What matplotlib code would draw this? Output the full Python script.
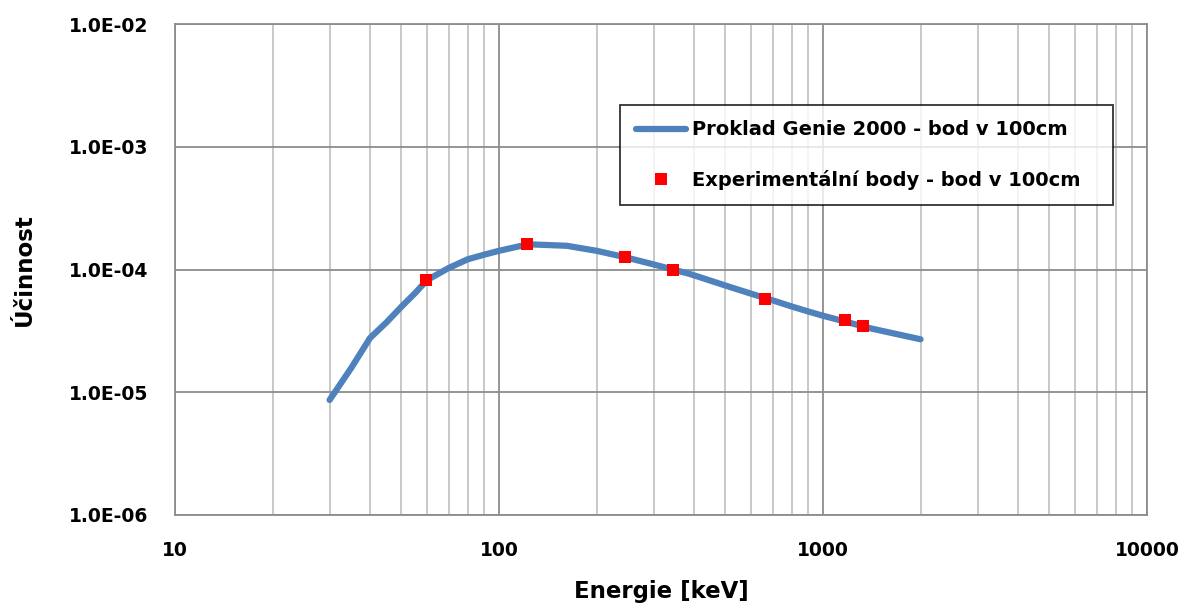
import numpy as np
import matplotlib.pyplot as plt
from matplotlib.ticker import FixedLocator, NullFormatter, LogLocator

plt.rcParams['font.family'] = ['DejaVu Sans']

# fitted curve (Genie 2000)
fit_energy = [30, 35, 40, 45, 50, 55, 60, 70, 80, 90, 100, 116, 127, 162, 200, 245, 300, 344,
              388, 500, 600, 700, 800, 900, 1000, 1413, 2000]
fit_eff = [8.65e-6, 1.58e-5, 2.77e-5, 3.72e-5, 4.98e-5, 6.4e-5, 8.2e-5, 1.03e-4, 1.21e-4, 1.32e-4,
           1.42e-4, 1.55e-4, 1.60e-4, 1.56e-4, 1.42e-4, 1.26e-4, 1.10e-4, 1.0e-4,
           9.2e-5, 7.4e-5, 6.35e-5, 5.6e-5, 5.0e-5, 4.55e-5, 4.2e-5, 3.3e-5, 2.7e-5]

# experimental points
exp_energy = [59.5, 122.1, 244.7, 344.3, 661.7, 1173.2, 1332.5]
exp_eff = [8.25e-5, 1.61e-4, 1.27e-4, 1.0e-4, 5.75e-5, 3.88e-5, 3.47e-5]

fig = plt.figure(figsize=(11.85, 6.07), dpi=100)
ax = fig.add_axes([175 / 1185, 1 - 515 / 607, 972 / 1185, 491 / 607])

ax.plot(fit_energy, fit_eff, color='#4f81bd', lw=4.5, solid_capstyle='round',
        solid_joinstyle='round', label='Proklad Genie 2000 - bod v 100cm', zorder=3)
ax.plot(exp_energy, exp_eff, 's', color='#ff0000', ms=9, mew=0,
        label='Experimentální body - bod v 100cm', zorder=4)

ax.set_xscale('log')
ax.set_yscale('log')
ax.set_xlim(10, 10000)
ax.set_ylim(1e-6, 1e-2)

ax.xaxis.set_major_locator(FixedLocator([10, 100, 1000, 10000]))
ax.xaxis.set_minor_locator(LogLocator(base=10, subs=np.arange(2, 10)))
ax.xaxis.set_minor_formatter(NullFormatter())
ax.set_xticklabels(['10', '100', '1000', '10000'])
ax.yaxis.set_major_locator(FixedLocator([1e-6, 1e-5, 1e-4, 1e-3, 1e-2]))
ax.yaxis.set_minor_locator(FixedLocator([]))
ax.set_yticklabels(['1.0E-06', '1.0E-05', '1.0E-04', '1.0E-03', '1.0E-02'])

ax.grid(True, which='major', color='#8c8c8c', lw=1.3)
ax.grid(True, which='minor', axis='x', color='#bfbfbf', lw=1.2)
ax.set_axisbelow(True)

for s in ax.spines.values():
    s.set_color('#8c8c8c')
    s.set_linewidth(1.3)

ax.tick_params(which='both', length=0)
ax.tick_params(axis='x', pad=19, labelsize=13.5)
ax.tick_params(axis='y', pad=19, labelsize=13.5)
for lab in ax.get_xticklabels() + ax.get_yticklabels():
    lab.set_fontweight('bold')

ax.set_xlabel('Energie [keV]', fontsize=16.5, fontweight='bold', labelpad=14)
ax.set_ylabel('Účinnost', fontsize=16.5, fontweight='bold', labelpad=24)

leg = ax.legend(loc='lower left', bbox_to_anchor=(0.458, 0.631, 0.507, 0.198), mode='expand',
                borderaxespad=0, frameon=True, fancybox=False, handlelength=2.6,
                handletextpad=0.3, labelspacing=1.55, borderpad=0.8,
                prop={'weight': 'bold', 'size': 14})
leg.get_frame().set_edgecolor('black')
leg.get_frame().set_linewidth(1.3)

fig.savefig('out.png', dpi=100)
